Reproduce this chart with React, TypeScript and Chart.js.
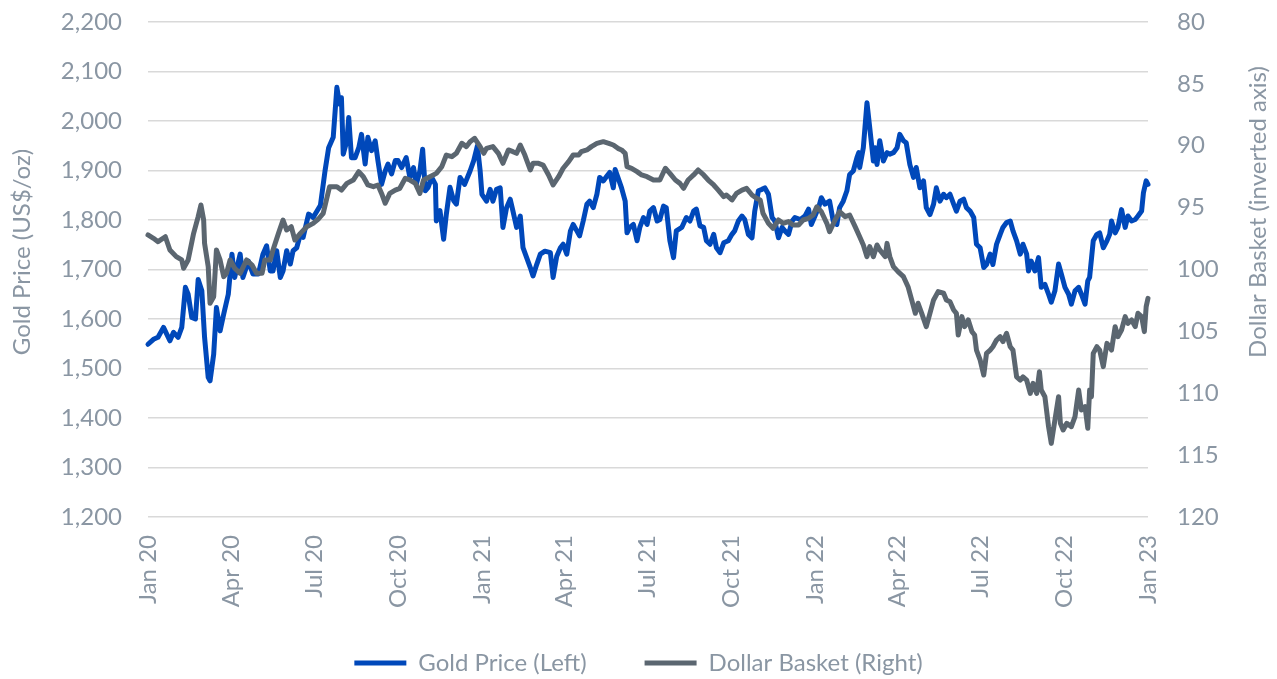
import { useEffect, useRef } from 'react';
import { Chart, registerables } from 'chart.js';

Chart.register(...registerables);

// x axis: days since 1 Jan 2020
const xTickDays = [0, 91, 182, 274, 366, 456, 547, 639, 731, 821, 912, 1004, 1096];
const xTickLabels = ['Jan 20', 'Apr 20', 'Jul 20', 'Oct 20', 'Jan 21', 'Apr 21', 'Jul 21', 'Oct 21', 'Jan 22', 'Apr 22', 'Jul 22', 'Oct 22', 'Jan 23'];

const goldDays = [0, 6, 11, 17, 24, 28, 33, 37, 41, 44, 48, 52, 55, 59, 62, 66, 68, 72, 75, 79, 83, 88, 92, 95, 101, 104, 110, 115, 121, 126, 130, 134, 137, 141, 145, 148, 152, 156, 159, 163, 167, 170, 176, 181, 189, 194, 198, 203, 207, 210, 212, 214, 218, 220, 223, 227, 231, 234, 238, 241, 245, 249, 252, 256, 260, 263, 267, 271, 274, 278, 283, 287, 291, 294, 298, 301, 304, 307, 311, 315, 316, 320, 324, 327, 331, 335, 338, 342, 347, 353, 357, 361, 364, 366, 371, 375, 378, 382, 386, 389, 393, 397, 400, 404, 408, 411, 415, 419, 422, 426, 430, 435, 441, 444, 448, 452, 455, 459, 463, 466, 470, 473, 477, 481, 484, 488, 492, 495, 499, 503, 506, 510, 512, 515, 519, 523, 525, 528, 532, 536, 539, 543, 547, 550, 554, 558, 561, 565, 568, 572, 576, 579, 585, 590, 594, 598, 601, 605, 609, 612, 616, 620, 623, 627, 631, 636, 640, 643, 647, 651, 654, 658, 662, 665, 669, 673, 676, 680, 684, 687, 691, 695, 698, 702, 706, 709, 715, 720, 724, 727, 731, 735, 738, 742, 747, 751, 755, 758, 762, 766, 769, 773, 777, 779, 780, 784, 788, 791, 795, 797, 799, 802, 806, 810, 813, 817, 821, 824, 828, 831, 835, 839, 842, 846, 850, 853, 857, 861, 864, 868, 872, 875, 879, 883, 886, 890, 894, 897, 901, 905, 908, 912, 916, 919, 923, 926, 930, 934, 937, 941, 945, 948, 952, 956, 959, 963, 965, 968, 972, 976, 979, 983, 987, 990, 994, 998, 1001, 1005, 1009, 1012, 1016, 1020, 1023, 1027, 1030, 1032, 1036, 1040, 1043, 1047, 1051, 1054, 1056, 1060, 1063, 1067, 1071, 1074, 1078, 1082, 1085, 1089, 1091, 1094, 1096];
const goldValues = [1549, 1559, 1563, 1583, 1556, 1573, 1563, 1583, 1664, 1650, 1603, 1600, 1680, 1657, 1563, 1482, 1475, 1529, 1623, 1576, 1610, 1650, 1731, 1684, 1731, 1684, 1717, 1691, 1691, 1731, 1748, 1697, 1697, 1738, 1684, 1697, 1738, 1711, 1738, 1744, 1771, 1765, 1812, 1805, 1830, 1899, 1946, 1967, 2068, 2034, 2047, 1933, 1960, 2007, 1926, 1926, 1946, 1973, 1913, 1967, 1940, 1960, 1920, 1872, 1899, 1913, 1893, 1920, 1920, 1906, 1926, 1886, 1906, 1872, 1899, 1943, 1859, 1866, 1886, 1872, 1798, 1819, 1761, 1812, 1866, 1839, 1832, 1886, 1872, 1899, 1920, 1950, 1900, 1852, 1838, 1862, 1838, 1862, 1865, 1785, 1825, 1842, 1818, 1785, 1808, 1744, 1724, 1704, 1687, 1710, 1731, 1737, 1734, 1684, 1727, 1744, 1751, 1731, 1778, 1791, 1778, 1768, 1798, 1832, 1838, 1825, 1852, 1886, 1879, 1889, 1896, 1865, 1902, 1886, 1865, 1838, 1774, 1785, 1791, 1758, 1785, 1805, 1791, 1818, 1825, 1798, 1801, 1828, 1825, 1758, 1724, 1778, 1785, 1805, 1798, 1818, 1822, 1788, 1785, 1758, 1751, 1771, 1744, 1734, 1754, 1758, 1771, 1778, 1798, 1808, 1801, 1771, 1764, 1818, 1859, 1862, 1865, 1852, 1805, 1798, 1764, 1785, 1778, 1771, 1798, 1805, 1801, 1808, 1822, 1791, 1808, 1825, 1845, 1832, 1838, 1798, 1791, 1825, 1838, 1859, 1892, 1899, 1926, 1936, 1906, 1946, 2037, 1987, 1919, 1946, 1912, 1960, 1919, 1936, 1933, 1936, 1946, 1973, 1960, 1956, 1912, 1886, 1906, 1865, 1879, 1825, 1811, 1832, 1865, 1838, 1852, 1845, 1852, 1832, 1818, 1838, 1842, 1825, 1818, 1805, 1751, 1744, 1704, 1710, 1731, 1710, 1751, 1771, 1785, 1795, 1798, 1778, 1758, 1731, 1751, 1731, 1697, 1717, 1697, 1724, 1664, 1670, 1650, 1634, 1657, 1711, 1691, 1664, 1650, 1630, 1657, 1664, 1650, 1630, 1677, 1684, 1758, 1771, 1774, 1744, 1758, 1771, 1798, 1774, 1785, 1821, 1785, 1808, 1798, 1801, 1808, 1818, 1855, 1879, 1872];

const dollarDays = [0, 6, 11, 19, 24, 31, 37, 39, 44, 50, 55, 58, 61, 62, 66, 68, 72, 75, 79, 83, 86, 90, 95, 101, 108, 114, 119, 125, 128, 134, 137, 143, 148, 152, 157, 161, 167, 174, 181, 187, 192, 199, 207, 212, 218, 225, 231, 236, 241, 247, 252, 256, 260, 265, 271, 276, 282, 287, 293, 298, 302, 309, 316, 322, 327, 333, 338, 344, 349, 353, 358, 364, 368, 371, 378, 384, 389, 395, 400, 404, 408, 413, 419, 422, 428, 433, 439, 444, 450, 455, 461, 466, 472, 475, 481, 486, 492, 499, 505, 510, 515, 519, 523, 525, 530, 536, 541, 547, 554, 561, 567, 572, 578, 583, 587, 592, 598, 603, 609, 614, 620, 625, 631, 634, 640, 645, 651, 656, 662, 667, 671, 674, 680, 685, 691, 696, 702, 707, 713, 718, 724, 729, 733, 738, 744, 747, 753, 758, 764, 769, 775, 780, 784, 788, 791, 795, 799, 802, 808, 810, 813, 817, 822, 828, 833, 837, 841, 844, 848, 853, 857, 861, 866, 872, 875, 879, 883, 886, 888, 892, 895, 899, 903, 906, 908, 912, 916, 919, 923, 926, 930, 934, 937, 941, 945, 948, 952, 956, 959, 963, 967, 970, 974, 977, 979, 983, 987, 990, 994, 998, 1000, 1003, 1007, 1012, 1016, 1020, 1023, 1027, 1030, 1032, 1034, 1036, 1040, 1043, 1047, 1051, 1054, 1056, 1060, 1063, 1067, 1071, 1074, 1078, 1082, 1085, 1089, 1092, 1094, 1096];
const dollarValues = [97.21, 97.48, 97.75, 97.35, 98.42, 98.96, 99.23, 99.9, 99.23, 97.08, 95.73, 94.79, 96.0, 97.89, 99.77, 102.73, 102.2, 98.42, 99.23, 100.58, 100.31, 99.23, 99.9, 100.31, 99.23, 99.64, 100.31, 100.31, 99.23, 99.23, 98.42, 97.08, 96.0, 96.81, 96.54, 97.62, 97.08, 96.54, 96.27, 95.9, 95.46, 93.31, 93.31, 93.58, 93.04, 92.77, 92.1, 92.5, 93.17, 93.31, 93.17, 93.85, 94.65, 93.85, 93.58, 93.44, 92.63, 92.77, 93.04, 93.85, 92.77, 92.5, 92.23, 91.69, 90.75, 90.88, 90.61, 89.8, 90.07, 89.67, 89.4, 90.07, 90.61, 90.21, 90.07, 90.61, 91.42, 90.34, 90.48, 90.61, 89.94, 90.75, 91.96, 91.42, 91.42, 91.56, 92.36, 93.17, 92.5, 91.82, 91.29, 90.75, 90.75, 90.48, 90.34, 90.07, 89.81, 89.67, 89.81, 89.94, 90.21, 90.34, 90.61, 91.69, 91.82, 92.09, 92.36, 92.5, 92.77, 92.77, 91.82, 92.23, 92.77, 93.04, 93.44, 92.77, 92.36, 91.96, 92.36, 92.77, 93.17, 93.58, 94.11, 93.98, 94.38, 93.85, 93.58, 93.44, 93.98, 94.25, 94.38, 95.46, 96.27, 96.67, 96.0, 96.27, 96.13, 96.4, 96.4, 96.0, 95.86, 95.6, 94.93, 95.33, 96.27, 96.94, 96.0, 95.33, 95.73, 95.6, 96.54, 97.35, 98.02, 98.96, 98.15, 98.96, 98.02, 98.42, 98.96, 97.89, 98.96, 99.77, 100.17, 100.58, 101.39, 102.46, 103.54, 102.73, 103.54, 104.62, 103.54, 102.46, 101.79, 101.92, 102.46, 102.6, 103.27, 103.54, 105.29, 103.81, 104.62, 104.08, 105.02, 105.29, 106.51, 107.31, 108.53, 106.78, 106.51, 106.24, 105.7, 105.43, 105.83, 105.16, 106.24, 106.51, 108.67, 108.93, 108.67, 108.93, 110.01, 109.2, 110.01, 108.26, 109.74, 110.28, 112.7, 114.05, 112.16, 110.28, 112.43, 112.97, 112.43, 112.7, 111.89, 109.74, 111.35, 111.08, 112.83, 109.74, 110.28, 106.78, 106.24, 106.51, 107.85, 105.97, 106.24, 106.51, 104.62, 105.43, 104.89, 103.81, 104.35, 104.08, 104.62, 103.54, 103.81, 105.02, 103.0, 102.33];

const GOLD_COLOR = '#0048BA';
const DOLLAR_COLOR = '#5B6670';
const TEXT_COLOR = '#8A96A3';
const GRID_COLOR = '#D9D9D9';
const FONT_FAMILY = 'Lato, "Open Sans", sans-serif';
const FONT_SIZE = 24;

const axisTitlePlugin = {
  id: 'axisTitles',
  afterLayout(chart: any) {
    // let the rotated month labels run below the x-axis box
    const xs = chart.scales.x;
    if (xs) xs._computeLabelArea = () => undefined;
  },
  afterDraw(chart: any) {
    const ctx = chart.ctx as CanvasRenderingContext2D;
    ctx.save();
    ctx.fillStyle = TEXT_COLOR;
    ctx.font = `${FONT_SIZE}px ${FONT_FAMILY}`;
    ctx.textAlign = 'center';
    ctx.textBaseline = 'middle';
    ctx.save();
    ctx.translate(22, 252);
    ctx.rotate(-Math.PI / 2);
    ctx.fillText('Gold Price (US$/oz)', 0, 0);
    ctx.restore();
    ctx.save();
    ctx.translate(1258, 212);
    ctx.rotate(-Math.PI / 2);
    ctx.fillText('Dollar Basket (inverted axis)', 0, 0);
    ctx.restore();
    ctx.restore();
  },
};

export default function App() {
  const canvasRef = useRef<HTMLCanvasElement | null>(null);

  useEffect(() => {
    if (!canvasRef.current) return;
    const font = { family: FONT_FAMILY, size: FONT_SIZE };
    const chart = new Chart(canvasRef.current, {
      type: 'line',
      data: {
        datasets: [
          {
            label: 'Gold Price (Left)',
            data: goldDays.map((d, i) => ({ x: d, y: goldValues[i] })),
            yAxisID: 'y',
            borderColor: GOLD_COLOR,
            backgroundColor: GOLD_COLOR,
            borderWidth: 5,
            borderCapStyle: 'round',
            borderJoinStyle: 'round',
            pointRadius: 0,
            tension: 0,
            order: 1,
            clip: 8,
          },
          {
            label: 'Dollar Basket (Right)',
            data: dollarDays.map((d, i) => ({ x: d, y: dollarValues[i] })),
            yAxisID: 'y1',
            borderColor: DOLLAR_COLOR,
            backgroundColor: DOLLAR_COLOR,
            borderWidth: 5,
            borderCapStyle: 'round',
            borderJoinStyle: 'round',
            pointRadius: 0,
            tension: 0,
            order: 0,
            clip: 8,
          },
        ],
      },
      options: {
        responsive: false,
        animation: false,
        devicePixelRatio: 1,
        layout: { padding: { top: 22, bottom: -6, left: 0, right: 0 } },
        plugins: {
          legend: {
            position: 'bottom',
            labels: {
              usePointStyle: true,
              pointStyle: 'line',
              pointStyleWidth: 52,
              padding: 58,
              color: TEXT_COLOR,
              font,
              sort: (a: any, b: any) => a.datasetIndex - b.datasetIndex,
            },
          },
          tooltip: { enabled: false },
        },
        scales: {
          x: {
            type: 'linear',
            min: 0,
            max: 1096,
            afterBuildTicks: (axis: any) => {
              axis.ticks = xTickDays.map((v) => ({ value: v }));
            },
            ticks: {
              autoSkip: false,
              minRotation: 90,
              maxRotation: 90,
              padding: 18,
              color: TEXT_COLOR,
              font,
              callback: (value: any) => {
                const idx = xTickDays.indexOf(Number(value));
                return idx >= 0 ? xTickLabels[idx] : '';
              },
            },
            grid: { display: false, drawTicks: false },
            border: { display: false },
            afterFit: (scale: any) => {
              scale.height = 76;
            },
          },
          y: {
            type: 'linear',
            position: 'left',
            min: 1200,
            max: 2200,
            ticks: {
              stepSize: 100,
              padding: 0,
              color: TEXT_COLOR,
              font,
              callback: (value: any) => Number(value).toLocaleString('en-US'),
            },
            grid: { color: GRID_COLOR, lineWidth: 1.5, drawTicks: true, tickLength: 26, tickColor: 'rgba(0,0,0,0)' },
            border: { display: false },
            afterFit: (scale: any) => {
              scale.width = 148;
            },
          },
          y1: {
            type: 'linear',
            position: 'right',
            reverse: true,
            min: 80,
            max: 120,
            ticks: {
              stepSize: 5,
              padding: 0,
              color: TEXT_COLOR,
              font,
            },
            grid: { display: false, drawOnChartArea: false, drawTicks: true, tickLength: 29 },
            border: { display: false },
            afterFit: (scale: any) => {
              scale.width = 129;
            },
          },
        },
      },
      plugins: [axisTitlePlugin],
    } as any);
    return () => chart.destroy();
  }, []);

  return (
    <div style={{ position: 'fixed', left: 0, top: 0, width: 1277, height: 679, background: '#ffffff' }}>
      <canvas ref={canvasRef} width={1277} height={679} style={{ display: 'block' }} />
    </div>
  );
}
